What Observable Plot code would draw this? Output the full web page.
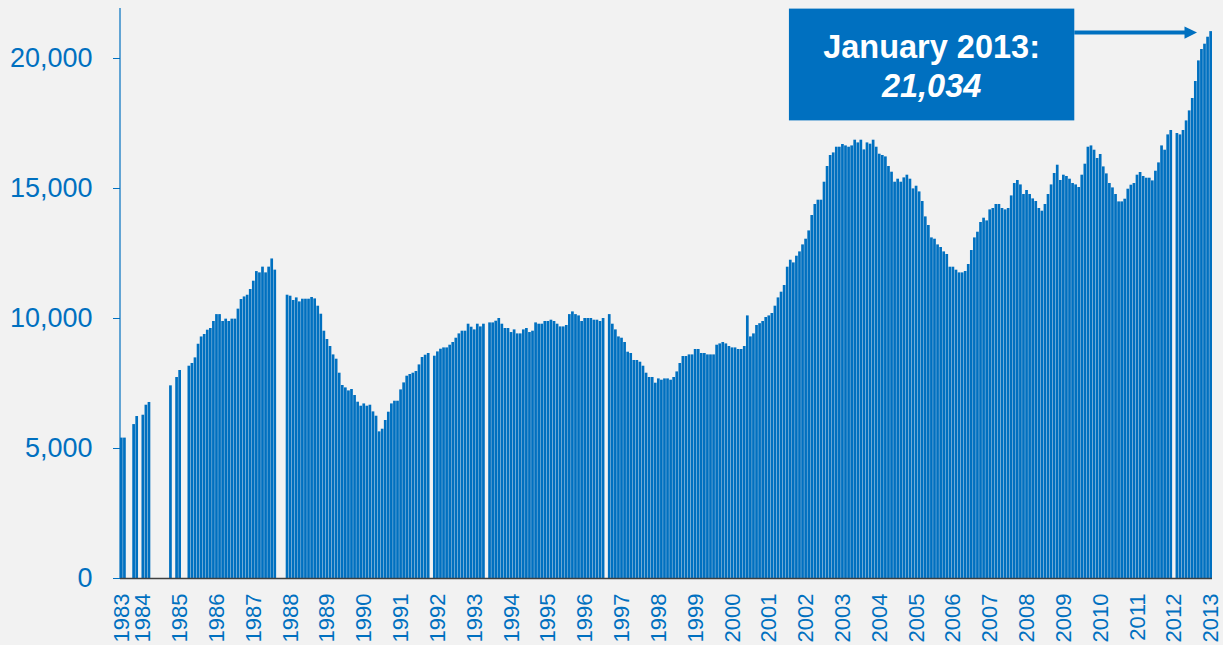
<!DOCTYPE html>
<html>
<head>
<meta charset="utf-8">
<script src="https://cdn.jsdelivr.net/npm/d3@7"></script>
<script src="https://cdn.jsdelivr.net/npm/@observablehq/plot@0.6"></script>
<style>
  html, body { margin: 0; padding: 0; background: #F2F2F2; }
  #chart { width: 1223px; height: 645px; overflow: hidden; }
</style>
</head>
<body>
<div id="chart"></div>
<script>
// ---- Data: monthly values (null = no bar), series starts June 1983 ----
const firstYear = 1983;
const firstMonth = 6;
const v1983 = [5400, 5400, null, null, 5920, 6230, null];
const v1984 = [6280, 6665, 6770, null, null, null, null, null, null, 7410, null, 7730];
const v1985 = [8000, null, null, 8165, 8270, 8485, 9010, 9290, 9385, 9550, 9615, 9885];
const v1986 = [10150, 10150, 9885, 9975, 9885, 9975, 9975, 10360, 10730, 10830, 10895, 11115];
const v1987 = [11435, 11805, 11755, 11975, 11755, 11975, 12290, 11860, null, null, null, 10896];
const v1988 = [10858, 10692, 10792, 10638, 10742, 10742, 10742, 10808, 10754, 10473, 10165, 9512];
const v1989 = [9192, 8923, 8600, 8435, 7896, 7423, 7331, 7215, 7269, 7038, 6781, 6627];
const v1990 = [6715, 6627, 6665, 6408, 6242, 5640, 5742, 6077, 6396, 6715, 6819, 6819];
const v1991 = [7254, 7523, 7781, 7846, 7896, 7962, 8215, 8500, 8588, 8654, null, 8550];
const v1992 = [8715, 8819, 8869, 8869, 8973, 9077, 9242, 9408, 9512, 9512, 9781, 9665];
const v1993 = [9562, 9781, 9677, 9781, null, 9831, 9831, 9896, 10000, 9781, 9615, 9615];
const v1994 = [9460, 9562, 9408, 9408, 9562, 9615, 9460, 9512, 9831, 9781, 9781, 9885];
const v1995 = [9885, 9935, 9885, 9781, 9677, 9677, 9731, 10150, 10254, 10150, 10100, 9885];
const v1996 = [10000, 10000, 10000, 9935, 9935, 9885, 10000, null, 10150, 9781, 9562, 9292];
const v1997 = [9242, 9077, 8704, 8654, 8385, 8385, 8319, 8165, 7896, 7731, 7731, 7512];
const v1998 = [7677, 7627, 7677, 7677, 7627, 7731, 7946, 8269, 8538, 8538, 8600, 8600];
const v1999 = [8808, 8808, 8654, 8654, 8600, 8600, 8600, 8973, 9023, 9077, 9023, 8923];
const v2000 = [8869, 8869, 8808, 8808, 8923, 10100, 9292, 9408, 9731, 9800, 9885, 10038];
const v2001 = [10100, 10192, 10473, 10792, 11012, 11269, 11973, 12242, 12138, 12396, 12562, 12831];
const v2002 = [13050, 13369, 13961, 14385, 14550, 14550, 15242, 15846, 16269, 16369, 16588, 16588];
const v2003 = [16692, 16638, 16588, 16638, 16858, 16754, 16858, 16485, 16754, 16704, 16858, 16588];
const v2004 = [16319, 16269, 16215, 15846, 15627, 15242, 15358, 15242, 15408, 15512, 15358, 14985];
const v2005 = [15088, 14869, 14500, 13908, 13577, 13100, 13050, 12831, 12731, 12562, 12462, 11973];
const v2006 = [11973, 11858, 11754, 11754, 11808, 12077, 12615, 13100, 13319, 13692, 13858, 13754];
const v2007 = [14177, 14231, 14385, 14385, 14231, 14177, 14231, 14715, 15192, 15308, 15138, 14769];
const v2008 = [14923, 14769, 14600, 14500, 14231, 14127, 14385, 14769, 15138, 15577, 15896, 15308];
const v2009 = [15512, 15462, 15358, 15192, 15138, 15038, 15512, 15935, 16588, 16638, 16473, 16154];
const v2010 = [16308, 15831, 15562, 15192, 15023, 14769, 14485, 14485, 14588, 14973, 15127, 15192];
const v2011 = [15512, 15615, 15462, 15396, 15396, 15292, 15665, 15985, 16638, 16473, 17062, 17231];
const v2012 = [null, 17115, 17062, 17231, 17600, 17985, 18462, 19115, 19908, 20346, 20550, 20819];
const v2013 = [21034];

const yTicks = [0, 5000, 10000, 15000, 20000];
const yMax = 22000;

// Annotation
const annoTitle = "January 2013:";
const annoValue = 21034;
const annoBoxFrom = "2001-08", annoBoxTo = "2009-05";
const annoBoxTop = 21900, annoBoxBottom = 17600;
const annoArrowTo = "2012-09";

// ---- Build table ----
const yearly = [v1983, v1984, v1985, v1986, v1987, v1988, v1989, v1990, v1991, v1992,
  v1993, v1994, v1995, v1996, v1997, v1998, v1999, v2000, v2001, v2002, v2003, v2004,
  v2005, v2006, v2007, v2008, v2009, v2010, v2011, v2012, v2013];
const data = [];
yearly.forEach((arr, k) => {
  const year = firstYear + k;
  const m0 = k === 0 ? firstMonth : 1;
  arr.forEach((v, j) => data.push({month: `${year}-${String(m0 + j).padStart(2, "0")}`, value: v}));
});
const months = data.map(d => d.month);
const yearTicks = months.filter((m, i) => i === 0 || m.endsWith("-01"));

const BLUE = "#0070C0";
const FONT = "'Liberation Sans', Arial, Helvetica, sans-serif";
const fmt = d3.format(",");

const chart = Plot.plot({
  width: 1223,
  height: 645,
  marginLeft: 120,
  marginRight: 11,
  marginTop: 6,
  marginBottom: 67,
  style: {background: "#F2F2F2", color: BLUE, fontFamily: FONT, overflow: "visible"},
  x: {type: "band", domain: months, paddingInner: 0.12, paddingOuter: 0, round: false, label: null},
  y: {domain: [0, yMax], label: null},
  marks: [
    Plot.barY(data.filter(d => d.value != null), {x: "month", y: "value", fill: BLUE}),
    Plot.ruleY([0], {stroke: "#404040", strokeWidth: 1.3}),
    Plot.axisY({ticks: yTicks, tickFormat: fmt, tickSize: 7, tickPadding: 21, fontSize: 27, label: null}),
    Plot.axisX({ticks: yearTicks, tickFormat: d => d.slice(0, 4), tickRotate: -90, tickSize: 0, tickPadding: 15, fontSize: 22, label: null})
  ]
});
document.getElementById("chart").appendChild(chart);

// ---- Axis line and annotation, placed through the chart's scales ----
const xs = chart.scale("x"), ys = chart.scale("y");
const svg = d3.select(chart);
const left = xs.range[0];
svg.append("line")
  .attr("x1", left).attr("x2", left)
  .attr("y1", ys.apply(0)).attr("y2", ys.apply(yMax) + 2)
  .attr("stroke", BLUE).attr("stroke-width", 1.2);

const bx0 = xs.apply(annoBoxFrom), bx1 = xs.apply(annoBoxTo);
const by0 = ys.apply(annoBoxTop), by1 = ys.apply(annoBoxBottom);
const g = svg.append("g");
g.append("rect").attr("x", bx0).attr("y", by0).attr("width", bx1 - bx0).attr("height", by1 - by0).attr("fill", BLUE);
const cx = (bx0 + bx1) / 2;
g.append("text").attr("x", cx).attr("y", by0 + 49.5).attr("text-anchor", "middle")
  .attr("fill", "white").attr("font-weight", "bold").attr("font-size", 32.5).attr("font-family", FONT)
  .text(annoTitle);
g.append("text").attr("x", cx).attr("y", by0 + 88).attr("text-anchor", "middle")
  .attr("fill", "white").attr("font-weight", "bold").attr("font-style", "italic").attr("font-size", 32.5).attr("font-family", FONT)
  .text(fmt(annoValue));

const ay = ys.apply(annoValue) + 1.5;
const tipX = xs.apply(annoArrowTo);
g.append("line").attr("x1", bx1).attr("x2", tipX - 10).attr("y1", ay).attr("y2", ay)
  .attr("stroke", BLUE).attr("stroke-width", 4);
g.append("path").attr("d", `M${tipX},${ay} L${tipX - 12.5},${ay - 6.2} L${tipX - 12.5},${ay + 6.2} Z`).attr("fill", BLUE);
</script>
</body>
</html>
